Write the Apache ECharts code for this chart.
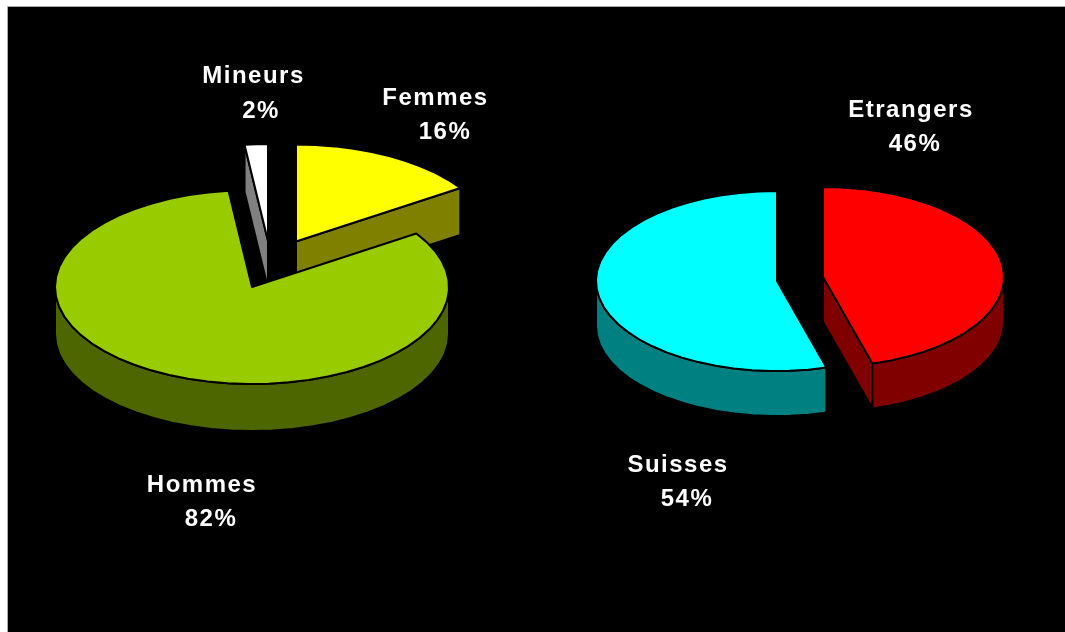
<!DOCTYPE html>
<html>
<head>
<meta charset="utf-8">
<style>html,body{margin:0;padding:0;background:#fff;overflow:hidden}#c{width:1065px;height:632px}</style>
<script src="https://cdn.jsdelivr.net/npm/echarts@6/dist/echarts.min.js"></script>
</head>
<body>
<div id="c"></div>
<script>
// Data, in pie order (clockwise from 12 o'clock); labels show the rounded percent
const leftCategories = ['Femmes', 'Hommes', 'Mineurs'];
const leftValues = [15.7, 82.4, 1.9];
const rightCategories = ['Etrangers', 'Suisses'];
const rightValues = [45.6, 54.4];

// Colours
const leftTop = ['#FFFF00', '#99CC00', '#FFFFFF'];
const leftSide = ['#808000', '#4D6600', '#808080'];
const rightTop = ['#FF0000', '#00FFFF'];
const rightSide = ['#800000', '#008080'];

// Layout: each slice's own exploded centre, ellipse, draw order, label spots
const leftPie = {
  rx: 197, ry: 97, depth: 47,
  centers: [[296, 241.5], [252, 287], [268, 241]],
  order: [1, 3, 2],
  nameAt: [[435.5, 98], [202, 485], [253.5, 76]],
  pctAt: [[445, 132], [211, 519], [261, 111]]
};
const rightPie = {
  rx: 181, ry: 90, depth: 45,
  centers: [[823, 277], [777, 281]],
  order: [1, 2],
  nameAt: [[911, 110], [678, 465]],
  pctAt: [[915, 144], [687, 499]]
};

// Wide tracking of the reference's labels
const nativeFill = CanvasRenderingContext2D.prototype.fillText;
CanvasRenderingContext2D.prototype.fillText = function (t, x, y, m) {
  this.letterSpacing = '1.5px';
  const r = m === undefined ? nativeFill.call(this, t, x, y) : nativeFill.call(this, t, x, y, m);
  this.letterSpacing = '0px';
  return r;
};

const STEP = 6;
const rad = d => d * Math.PI / 180;

function arc(c, L, a0, a1, dy) {
  const pts = [];
  const n = Math.max(1, Math.ceil((a1 - a0) / STEP));
  for (let i = 0; i <= n; i++) {
    const a = rad(a0 + (a1 - a0) * i / n);
    pts.push([c[0] + L.rx * Math.sin(a), c[1] - L.ry * Math.cos(a) + dy]);
  }
  return pts;
}

function pieSeries(categories, values, tops, sides, L) {
  const total = values.reduce((s, v) => s + v, 0);
  const starts = [];
  values.reduce((s, v, i) => (starts[i] = s, s + v), 0);
  return {
    type: 'custom',
    coordinateSystem: 'none',
    z: 5,
    silent: true,
    data: values.map((v, i) => ({ name: categories[i], value: [v, starts[i]] })),
    renderItem(params, api) {
      const i = params.dataIndex;
      const a0 = api.value(1) / total * 360;
      const a1 = a0 + api.value(0) / total * 360;
      const c = L.centers[i];
      const z = L.order[i] * 10;
      const line = { stroke: '#000', lineWidth: 2, lineJoin: 'round' };
      const kids = [];
      const face = (a) => {
        const rim = arc(c, L, a, a, 0)[0];
        kids.push({
          type: 'polygon', z2: z,
          shape: { points: [c, rim, [rim[0], rim[1] + L.depth], [c[0], c[1] + L.depth]] },
          style: Object.assign({ fill: sides[i] }, line)
        });
      };
      if (Math.sin(rad(a0)) < -1e-6) face(a0);
      if (Math.sin(rad(a1)) > 1e-6) face(a1);
      const w0 = Math.max(a0, 90), w1 = Math.min(a1, 270);
      if (w1 > w0) {
        kids.push({
          type: 'polygon', z2: z + 1,
          shape: { points: arc(c, L, w0, w1, 0).concat(arc(c, L, w0, w1, L.depth).reverse()) },
          style: Object.assign({ fill: sides[i] }, line)
        });
      }
      kids.push({
        type: 'polygon', z2: z + 2,
        shape: { points: [c].concat(arc(c, L, a0, a1, 0)) },
        style: Object.assign({ fill: tops[i] }, line)
      });
      const label = (text, at) => kids.push({
        type: 'text', z2: 100,
        style: {
          text, x: at[0], y: at[1], fill: '#fff',
          font: 'bold 24px "Liberation Sans", Arial, sans-serif',
          align: 'center', verticalAlign: 'middle'
        }
      });
      label(categories[i], L.nameAt[i]);
      label(Math.round(api.value(0)) + '%', L.pctAt[i]);
      return { type: 'group', children: kids };
    }
  };
}

const chart = echarts.init(document.getElementById('c'), null, { renderer: 'canvas' });
chart.setOption({
  animation: false,
  backgroundColor: '#fff',
  graphic: [{
    type: 'rect', z: 0, silent: true,
    shape: { x: 7.5, y: 6.5, width: 1070, height: 640 },
    style: { fill: '#000', stroke: '#aaa', lineWidth: 1 }
  }],
  series: [
    pieSeries(leftCategories, leftValues, leftTop, leftSide, leftPie),
    pieSeries(rightCategories, rightValues, rightTop, rightSide, rightPie)
  ]
});
</script>
</body>
</html>
